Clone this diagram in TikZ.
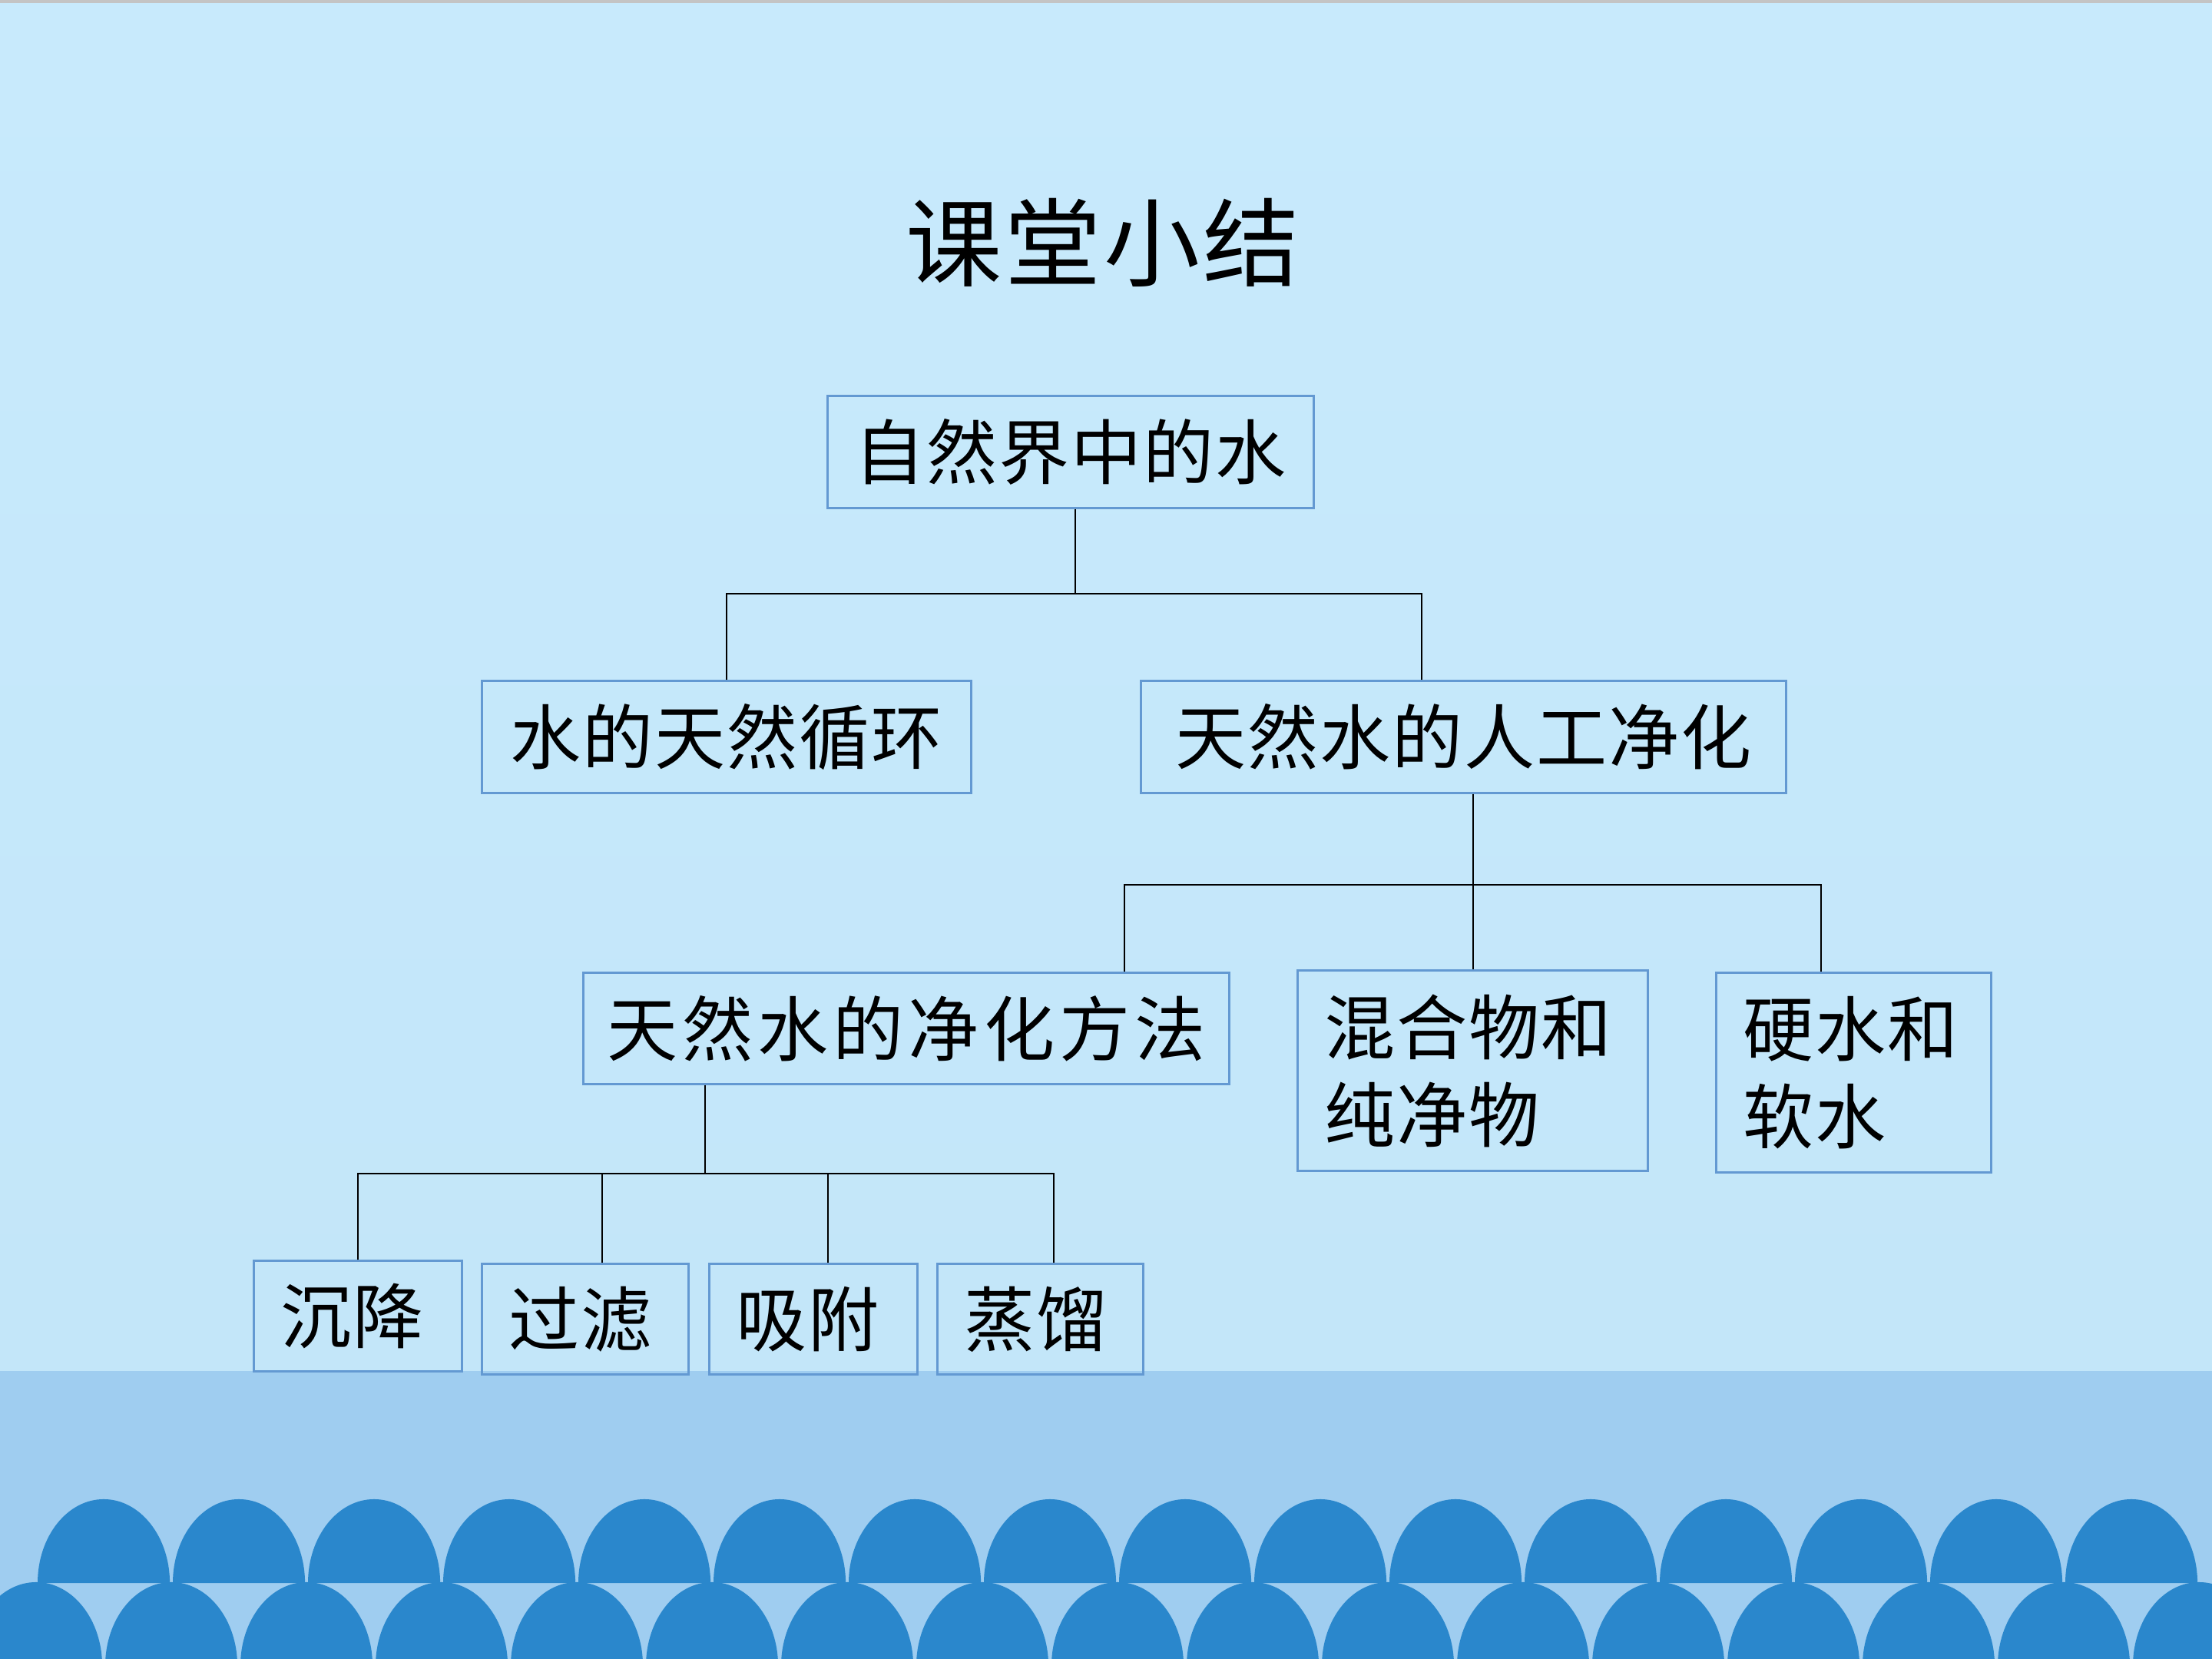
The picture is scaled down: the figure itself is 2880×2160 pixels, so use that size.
\documentclass[tikz,border=0pt]{standalone}
\usepackage{fontspec}
\newfontfamily\cjk[LetterSpace=2]{Noto Sans CJK SC}
\newfontfamily\cjkT[LetterSpace=3]{Noto Sans CJK SC}
\newfontfamily\cjkD[LetterSpace=6.5]{Noto Sans CJK SC}
\definecolor{bgtop}{HTML}{C8EAFC}
\definecolor{bgbot}{HTML}{C3E6F9}
\definecolor{band}{HTML}{9FCDF0}
\definecolor{wave}{HTML}{2A87CC}
\definecolor{boxblue}{HTML}{6399D2}
\definecolor{topline}{HTML}{C4C4C4}
\tikzset{
  box/.style={draw=boxblue, line width=0.85pt, inner sep=0pt, align=center,
    font=\cjk\fontsize{26.2pt}{32.4pt}\selectfont},
  lbox/.style={box, align=left, inner xsep=0.35cm},
  conn/.style={draw=black, line width=0.6pt},
}
\begin{document}
\begin{tikzpicture}[x=0.01cm, y=-0.01cm]
\useasboundingbox (0,0) rectangle (2880,2160);
% background
\shade[top color=bgtop, bottom color=bgbot] (0,0) rectangle (2880,1786);
\fill[topline] (0,0) rectangle (2880,4);
\fill[band] (0,1785) rectangle (2880,2160);
\begin{scope}
\clip (0,0) rectangle (2880,2160);
\foreach \k in {0,...,16}{
  \fill[wave] ({47+176*\k-86},2169) arc[start angle=180, end angle=0, x radius=0.86cm, y radius=1.09cm] -- cycle;
}
\foreach \k in {0,...,15}{
  \fill[wave] ({135+176*\k-86},2061) arc[start angle=180, end angle=0, x radius=0.86cm, y radius=1.09cm] -- cycle;
}
\end{scope}
% title
\node (T) at (1436,316) {\cjkT\fontsize{35.6pt}{40pt}\selectfont 课堂小结};
% boxes
\node[box, minimum width=6.32cm, minimum height=1.45cm] (A) at (1394,588.5) {自然界中的水};
\node[box, minimum width=6.36cm, minimum height=1.45cm] (B) at (946,959.5) {水的天然循环};
\node[box, minimum width=8.39cm, minimum height=1.45cm] (C) at (1905.5,959.5) {天然水的人工净化};
\node[box, minimum width=8.40cm, minimum height=1.44cm, font=\cjkD\fontsize{26.2pt}{32.4pt}\selectfont] (D) at (1180,1339) {天然水的净化方法};
\node[lbox, text width=3.85cm, minimum height=2.60cm] (E) at (1917.5,1394) {混合物和\\纯净物};
\node[lbox, text width=2.87cm, minimum height=2.59cm] (F) at (2413.5,1396.5) {硬水和\\软水};
\node[lbox, text width=2.00cm, minimum height=1.43cm] (G) at (466,1713.5) {沉降};
\node[lbox, text width=1.98cm, minimum height=1.43cm] (H) at (762,1717.5) {过滤};
\node[lbox, text width=2.00cm, minimum height=1.43cm] (I) at (1059,1717.5) {吸附};
\node[lbox, text width=1.97cm, minimum height=1.43cm] (J) at (1354.5,1717.5) {蒸馏};
% junction coordinates
\coordinate (j1) at (1400,773);
\coordinate (b1L) at (946,773);
\coordinate (b1R) at (1851,773);
\coordinate (j2) at (1918,1152);
\coordinate (b2L) at (1464,1152);
\coordinate (b2R) at (2371,1152);
\coordinate (j3) at (918,1528);
\coordinate (b3a) at (466,1528);
\coordinate (b3b) at (784,1528);
\coordinate (b3c) at (1078,1528);
\coordinate (b3d) at (1372,1528);
% connectors
\draw[conn] (j1 |- A.south) -- (j1);
\draw[conn] (b1L |- B.north) -- (b1L) -- (b1R) -- (b1R |- C.north);
\draw[conn] (j2 |- C.south) -- (j2 |- E.north);
\draw[conn] (b2L |- D.north) -- (b2L) -- (b2R) -- (b2R |- F.north);
\draw[conn] (j3 |- D.south) -- (j3);
\draw[conn] (b3a |- G.north) -- (b3a) -- (b3d) -- (b3d |- J.north);
\draw[conn] (b3b) -- (b3b |- H.north);
\draw[conn] (b3c) -- (b3c |- I.north);
\end{tikzpicture}
\end{document}
